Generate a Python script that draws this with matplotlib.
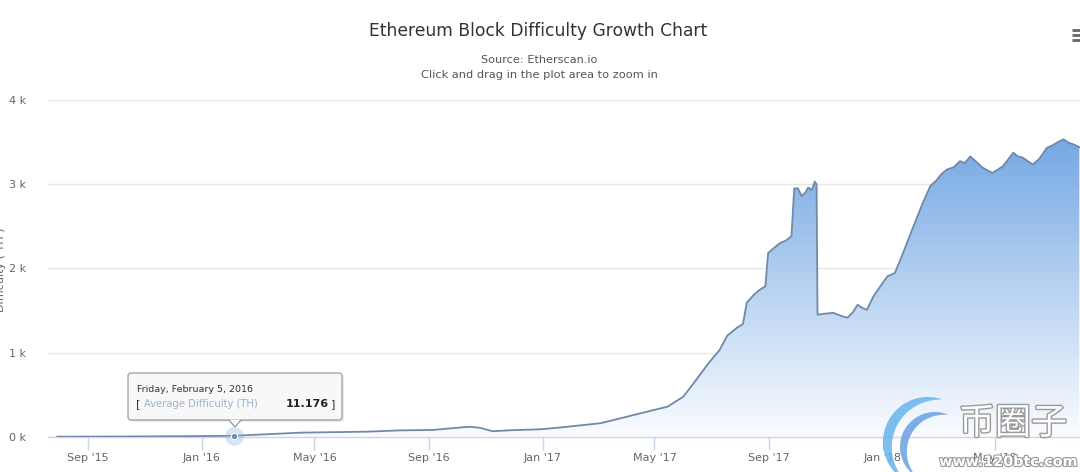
import numpy as np
import matplotlib
matplotlib.use("Agg")
import matplotlib.pyplot as plt
import matplotlib.dates as mdates
import matplotlib.patheffects as pe
from matplotlib.patches import FancyBboxPatch, Polygon
from datetime import datetime

# ---------------- data ----------------
dates = ["2015-07-30", "2015-10-01", "2015-12-15", "2016-02-05", "2016-04-16",
         "2016-06-27", "2016-08-01", "2016-09-05", "2016-10-05", "2016-10-15",
         "2016-10-26", "2016-11-08", "2016-11-30", "2016-12-22", "2017-01-01",
         "2017-01-20", "2017-03-04", "2017-04-16", "2017-05-15", "2017-06-01",
         "2017-06-12", "2017-06-28", "2017-07-10", "2017-07-18", "2017-07-28",
         "2017-08-04", "2017-08-08", "2017-08-16", "2017-08-22", "2017-08-28",
         "2017-08-31", "2017-09-06", "2017-09-13", "2017-09-19", "2017-09-25",
         "2017-09-28", "2017-10-02", "2017-10-06", "2017-10-10", "2017-10-13",
         "2017-10-17", "2017-10-20", "2017-10-22", "2017-10-23", "2017-10-30",
         "2017-11-09", "2017-11-16", "2017-11-24", "2017-11-30", "2017-12-05",
         "2017-12-10", "2017-12-15", "2017-12-22", "2017-12-29", "2018-01-06",
         "2018-01-14", "2018-01-20", "2018-01-27", "2018-02-03", "2018-02-12",
         "2018-02-21", "2018-02-28", "2018-03-05", "2018-03-11", "2018-03-18",
         "2018-03-25", "2018-03-30", "2018-04-05", "2018-04-10", "2018-04-18",
         "2018-04-24", "2018-04-29", "2018-05-04", "2018-05-10", "2018-05-16",
         "2018-05-21", "2018-05-26", "2018-05-31", "2018-06-05", "2018-06-11",
         "2018-06-18", "2018-06-26", "2018-07-02", "2018-07-08", "2018-07-14",
         "2018-07-20", "2018-07-25", "2018-07-31"]
difficulty = [0.1, 2, 6, 11.176, 48,
              60, 75, 80, 110, 118,
              105, 65, 78, 85, 90,
              110, 160, 278, 357, 476,
              635, 873, 1032, 1199, 1290,
              1340, 1591, 1690, 1746, 1786,
              2183, 2240, 2302, 2330, 2381,
              2950, 2950, 2857, 2900, 2960,
              2930, 3030, 3000, 1449, 1460,
              1472, 1440, 1413, 1480, 1567,
              1530, 1508, 1667, 1780, 1905,
              1945, 2103, 2300, 2500, 2750,
              2976, 3050, 3120, 3175, 3200,
              3274, 3250, 3330, 3280, 3198,
              3160, 3135, 3170, 3214, 3300,
              3373, 3330, 3317, 3280, 3234,
              3300, 3430, 3460, 3500, 3532,
              3490, 3472, 3440]

tooltip_date = "2016-02-05"
tooltip_value = 11.176
y_ticks = [0, 1000, 2000, 3000, 4000]
y_tick_labels = ["0 k", "1 k", "2 k", "3 k", "4 k"]

title = "Ethereum Block Difficulty Growth Chart"
subtitle1 = "Source: Etherscan.io"
subtitle2 = "Click and drag in the plot area to zoom in"
y_title = "Difficulty ( TH )"

# ---------------- figure ----------------
W, H = 1080, 472
fig = plt.figure(figsize=(W / 100, H / 100), dpi=100)
fig.patch.set_facecolor("white")

ax_left, ax_top, ax_bottom = 48, 100, 436.7
ax = fig.add_axes([ax_left / W, (H - ax_bottom) / H, 1 - ax_left / W, (ax_bottom - ax_top) / H])
ax.set_facecolor("white")

x = mdates.date2num([datetime.strptime(d, "%Y-%m-%d") for d in dates])
y = np.array(difficulty)

x0 = mdates.date2num(datetime(2015, 7, 20))
x1 = mdates.date2num(datetime(2018, 7, 31, 18))
ax.set_xlim(x0, x1)
ax.set_ylim(0, 4000)

# gradient fill under the curve
poly = ax.fill_between(x, y, 0, color="none", lw=0)
top_c = np.array([100, 157, 224]) / 255
bot_c = np.array([250, 252, 255]) / 255
t = np.linspace(0, 1, 256)[:, None]
grad = (bot_c[None, :] * (1 - t) + top_c[None, :] * t)[:, None, :]
im = ax.imshow(grad, extent=[x0, x1, 0, 4000], aspect="auto", origin="lower", zorder=1)
im.set_clip_path(poly.get_paths()[0], transform=ax.transData)

ax.plot(x, y, color="#7089a8", lw=1.3, zorder=3, solid_joinstyle="round")

# grid & axes
ax.set_yticks(y_ticks)
ax.set_yticklabels(y_tick_labels)
ax.yaxis.grid(True, color="#e6e6e6", lw=1)
ax.set_axisbelow(True)
for s in ["top", "right", "left"]:
    ax.spines[s].set_visible(False)
ax.spines["bottom"].set_color("#ccd6eb")
ax.spines["bottom"].set_linewidth(1)
ax.tick_params(axis="y", length=0, pad=16, labelsize=8, labelcolor="#666666")
ax.xaxis.set_major_locator(mdates.MonthLocator(bymonth=[1, 5, 9]))
ax.xaxis.set_major_formatter(mdates.DateFormatter("%b '%y"))
ax.tick_params(axis="x", length=9, width=1, color="#ccd6eb", pad=3, labelsize=8, labelcolor="#666666")

# hover marker
tx = mdates.date2num(datetime.strptime(tooltip_date, "%Y-%m-%d"))
ax.scatter([tx], [tooltip_value], s=180, color="#8fb3dc", alpha=0.35, zorder=4, clip_on=False, lw=0)
ax.scatter([tx], [tooltip_value], s=22, color="#6f8db3", edgecolor="white", lw=0.8, zorder=5, clip_on=False)

# ---------------- overlay in pixel coordinates ----------------
ov = fig.add_axes([0, 0, 1, 1], zorder=10)
ov.set_xlim(0, W)
ov.set_ylim(H, 0)
ov.axis("off")
ov.patch.set_alpha(0)

ov.text(538, 31, title, ha="center", va="center", fontsize=12.3, color="#333333")
ov.text(539, 60, subtitle1, ha="center", va="center", fontsize=8.1, color="#555555")
ov.text(539, 75, subtitle2, ha="center", va="center", fontsize=8.2, color="#555555")
ov.text(1, 270, y_title, ha="center", va="center", rotation=90, fontsize=8, color="#666666")

# menu icon (cropped)
for yy in (30, 35, 40):
    ov.plot([1072, 1081], [yy, yy], color="#666666", lw=2, solid_capstyle="butt")

# tooltip
shadow = FancyBboxPatch((130, 375), 214, 47, boxstyle="round,pad=0,rounding_size=3",
                        fc="#000000", ec="none", alpha=0.08)
ov.add_patch(shadow)
box = FancyBboxPatch((128, 373), 214, 47, boxstyle="round,pad=0,rounding_size=3",
                     fc="#f9f9f9", ec="#a0a0a0", lw=1, alpha=0.95)
ov.add_patch(box)
ov.add_patch(Polygon([[229, 419.6], [241, 419.6], [235, 427]], closed=True,
                     fc="#f9f9f9", ec="none"))
ov.plot([229, 235, 241], [420, 427, 420], color="#a0a0a0", lw=1)
ov.text(137, 389, "Friday, February 5, 2016", ha="left", va="center", fontsize=6.8, color="#333333")
ov.text(136, 404, "[", ha="left", va="center", fontsize=8, color="#333333")
ov.text(144, 404, "Average Difficulty (TH)", ha="left", va="center", fontsize=7.2, color="#9db2cc")
ov.text(286, 404, "11.176", ha="left", va="center", fontsize=8, color="#222222", fontweight="bold")
ov.text(331, 404, "]", ha="left", va="center", fontsize=8, color="#333333")

# watermark
def crescent(cx, cy, R, a1, a2, wmax):
    th = np.radians(np.linspace(a1, a2, 80))
    w = wmax * np.sin(np.linspace(0, np.pi, 80)) ** 0.8
    outer = np.c_[cx + R * np.cos(th), cy - R * np.sin(th)]
    inner = np.c_[cx + (R - w) * np.cos(th), cy - (R - w) * np.sin(th)]
    return np.vstack([outer, inner[::-1]])

ov.add_patch(Polygon(crescent(928, 442, 45, 72, 238, 10), closed=True, fc="#66b4ec", ec="none", alpha=0.85))
ov.add_patch(Polygon(crescent(935, 447, 35, 68, 235, 8), closed=True, fc="#6a9fe0", ec="none", alpha=0.85))
ov.text(1013, 424, "币圈子", ha="center", va="center", fontsize=26,
        family=["Noto Sans CJK SC", "DejaVu Sans"], color="white",
        path_effects=[pe.withStroke(linewidth=2, foreground="#9a9a9a")])
ov.text(1008, 462, "www.120btc.com", ha="center", va="center", fontsize=10.3, fontweight="bold",
        color="white", path_effects=[pe.withStroke(linewidth=1.6, foreground="#9a9a9a")])

fig.savefig("out.png", dpi=100, facecolor="white")
